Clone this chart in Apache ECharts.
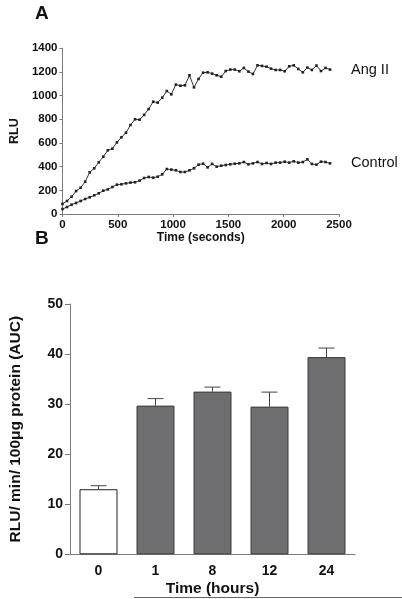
<!DOCTYPE html>
<html>
<head>
<meta charset="utf-8">
<script src="https://cdn.jsdelivr.net/npm/echarts@6/dist/echarts.min.js"></script>
<style>
html,body{margin:0;padding:0;background:#fff;}
#c{width:402px;height:599px;}
</style>
</head>
<body>
<div id="c"></div>
<script>
// Panel A data
const timesSec = [0,41,82,123,164,205,246,287,328,369,410,451,492,533,574,615,656,697,738,779,820,861,902,943,984,1025,1066,1107,1148,1189,1230,1271,1312,1353,1394,1435,1476,1517,1558,1599,1640,1681,1722,1763,1804,1845,1886,1927,1968,2009,2050,2091,2132,2173,2214,2255,2296,2337,2378,2419];
const angII = [85,110,146,194,222,273,352,386,437,484,538,552,605,648,687,752,800,797,837,887,949,941,983,1039,1011,1093,1084,1087,1172,1070,1141,1194,1197,1186,1172,1160,1208,1220,1220,1206,1234,1203,1183,1256,1251,1245,1228,1217,1217,1206,1248,1256,1225,1197,1237,1217,1254,1208,1234,1220];
const control = [42,59,79,93,110,127,141,158,175,197,208,228,248,251,259,265,268,282,304,313,307,315,335,380,375,369,355,355,369,386,417,425,394,423,400,408,414,420,425,428,439,420,428,439,423,431,423,434,434,442,434,445,434,439,462,423,417,442,439,428];
const xTicksA = [0,500,1000,1500,2000,2500];
const yTicksA = [0,200,400,600,800,1000,1200,1400];

// Panel B data
const categoriesB = ['0','1','8','12','24'];
const meansB = [13.0,29.7,32.5,29.5,39.4];
const upperB = [13.7,31.1,33.4,32.4,41.2];
const yTicksB = [0,10,20,30,40,50];

const FONT = '"Liberation Sans", Arial, Helvetica, sans-serif';
const axisCol = '#7a7a7a';
const plain = v => String(v);

const chart = echarts.init(document.getElementById('c'), null, {renderer:'canvas'});

function pairs(xs, ys){ return xs.map((x,i)=>[x, ys[i]]); }

const option = {
  animation:false,
  backgroundColor:'#fff',
  textStyle:{fontFamily:FONT},
  graphic:[
    {type:'text', left:35, top:4, style:{text:'A', font:'bold 19px '+FONT, fill:'#111'}},
    {type:'text', left:35, top:229, style:{text:'B', font:'bold 19px '+FONT, fill:'#111'}},
    {type:'line', shape:{x1:134, y1:597.5, x2:402, y2:597.5}, style:{stroke:'#666', lineWidth:1}}
  ],
  grid:[
    {left:61.5, right:63, top:48.3, height:165.7, containLabel:false},
    {left:66.7, right:47, top:304, height:250.3, containLabel:false}
  ],
  xAxis:[
    {type:'value', gridIndex:0, min:xTicksA[0], max:xTicksA[xTicksA.length-1], interval:500,
     name:'Time (seconds)', nameLocation:'middle', nameGap:17,
     nameTextStyle:{fontWeight:'bold', fontSize:12, color:'#111', fontFamily:FONT},
     axisLine:{lineStyle:{color:axisCol, width:1}},
     axisTick:{show:true, length:3, lineStyle:{color:axisCol}},
     axisLabel:{fontWeight:'bold', fontSize:11.5, color:'#111', margin:5, fontFamily:FONT, formatter:plain},
     splitLine:{show:false}},
    {type:'category', gridIndex:1, data:categoriesB,
     name:'Time (hours)', nameLocation:'middle', nameGap:26,
     nameTextStyle:{fontWeight:'bold', fontSize:15.5, color:'#111', fontFamily:FONT},
     axisLine:{lineStyle:{color:axisCol, width:1}},
     axisTick:{show:false},
     axisLabel:{fontWeight:'bold', fontSize:14, color:'#111', margin:10, fontFamily:FONT},
     splitLine:{show:false}}
  ],
  yAxis:[
    {type:'value', gridIndex:0, min:yTicksA[0], max:yTicksA[yTicksA.length-1], interval:200,
     name:'RLU', nameLocation:'middle', nameGap:38, nameRotate:90,
     nameTextStyle:{fontWeight:'bold', fontSize:12.5, color:'#111', fontFamily:FONT},
     axisLine:{show:true, lineStyle:{color:axisCol, width:1}},
     axisTick:{show:true, length:3, lineStyle:{color:axisCol}},
     axisLabel:{fontWeight:'bold', fontSize:11.5, color:'#111', margin:5, fontFamily:FONT, formatter:plain},
     splitLine:{show:false}},
    {type:'value', gridIndex:1, min:yTicksB[0], max:yTicksB[yTicksB.length-1], interval:10,
     name:'RLU/ min/ 100\u03bcg protein (AUC)', nameLocation:'middle', nameGap:46, nameRotate:90,
     nameTextStyle:{fontWeight:'bold', fontSize:15.5, color:'#111', fontFamily:FONT},
     axisLine:{show:true, lineStyle:{color:axisCol, width:1}},
     axisTick:{show:true, length:5, lineStyle:{color:axisCol}},
     axisLabel:{fontWeight:'bold', fontSize:14, color:'#111', margin:7, fontFamily:FONT, formatter:plain},
     splitLine:{show:false}}
  ],
  series:[
    {name:'Ang II', type:'line', xAxisIndex:0, yAxisIndex:0, data:pairs(timesSec, angII),
     symbol:'rect', symbolSize:2.6, showAllSymbol:true,
     lineStyle:{color:'#333', width:1}, itemStyle:{color:'#222'},
     endLabel:{show:true, formatter:'{a}', distance:21, fontSize:14.5, color:'#111', fontFamily:FONT}},
    {name:'Control', type:'line', xAxisIndex:0, yAxisIndex:0, data:pairs(timesSec, control),
     symbol:'rect', symbolSize:2.6, showAllSymbol:true,
     lineStyle:{color:'#333', width:1}, itemStyle:{color:'#222'},
     endLabel:{show:true, formatter:'{a}', distance:21, fontSize:14.5, color:'#111', fontFamily:FONT}},
    {name:'AUC', type:'bar', xAxisIndex:1, yAxisIndex:1, barWidth:38,
     data:meansB.map((v,i)=>({value:v, itemStyle: i===0 ? {color:'#ffffff', borderColor:'#222', borderWidth:1} : {color:'#6e6e71', borderColor:'#3a3a3a', borderWidth:1}}))},
    {name:'err', type:'custom', xAxisIndex:1, yAxisIndex:1, z:3,
     data:meansB.map((v,i)=>[i, v, upperB[i]]),
     renderItem:function(params, api){
       const p0 = api.coord([api.value(0), api.value(1)]);
       const p1 = api.coord([api.value(0), api.value(2)]);
       const half = 8;
       const st = {stroke:'#444', lineWidth:1};
       return {type:'group', children:[
         {type:'line', shape:{x1:p0[0], y1:p0[1], x2:p1[0], y2:p1[1]}, style:st},
         {type:'line', shape:{x1:p1[0]-half, y1:p1[1], x2:p1[0]+half, y2:p1[1]}, style:st}
       ]};
     }}
  ]
};
chart.setOption(option);
</script>
</body>
</html>
